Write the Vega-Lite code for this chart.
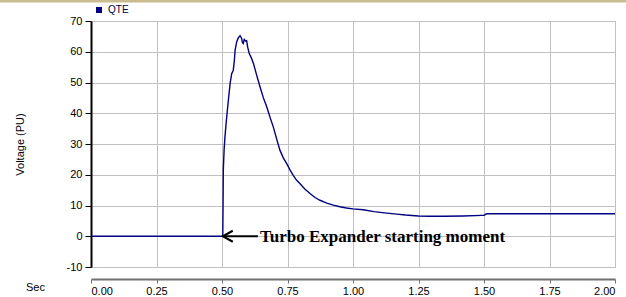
{
  "$schema": "https://vega.github.io/schema/vega-lite/v6.json",
  "width": 524,
  "height": 246,
  "autosize": {"type": "none"},
  "padding": {"left": 91, "top": 21, "right": 11, "bottom": 30},
  "background": "white",
  "config": {"view": {"stroke": "#c0c0c0", "strokeWidth": 1}, "font": "Liberation Sans"},
  "layer": [
    {
      "data": {"values": [
        {"t": 0, "v": 0}, {"t": 0.5, "v": 0}, {"t": 0.503, "v": 0.3}, {"t": 0.504, "v": 10},
        {"t": 0.505, "v": 21.5}, {"t": 0.508, "v": 28}, {"t": 0.511, "v": 32}, {"t": 0.515, "v": 36},
        {"t": 0.518, "v": 38.8}, {"t": 0.524, "v": 44}, {"t": 0.531, "v": 49.7}, {"t": 0.537, "v": 52.9},
        {"t": 0.543, "v": 54}, {"t": 0.547, "v": 57}, {"t": 0.55, "v": 60.5}, {"t": 0.556, "v": 63.2},
        {"t": 0.562, "v": 64.5}, {"t": 0.569, "v": 65.2}, {"t": 0.572, "v": 64.8}, {"t": 0.575, "v": 64.3},
        {"t": 0.578, "v": 63.0}, {"t": 0.581, "v": 62.7}, {"t": 0.585, "v": 64.0}, {"t": 0.59, "v": 63.5},
        {"t": 0.594, "v": 63.6}, {"t": 0.598, "v": 61.5}, {"t": 0.604, "v": 59.4}, {"t": 0.612, "v": 58},
        {"t": 0.62, "v": 56.2}, {"t": 0.632, "v": 52.5}, {"t": 0.645, "v": 48.6}, {"t": 0.658, "v": 45},
        {"t": 0.671, "v": 42}, {"t": 0.684, "v": 38.5}, {"t": 0.696, "v": 35.5}, {"t": 0.709, "v": 31.5},
        {"t": 0.721, "v": 28}, {"t": 0.734, "v": 25.5}, {"t": 0.747, "v": 23.6}, {"t": 0.76, "v": 21.5},
        {"t": 0.772, "v": 19.8}, {"t": 0.785, "v": 18.2}, {"t": 0.798, "v": 17.1}, {"t": 0.817, "v": 15.3},
        {"t": 0.836, "v": 13.9}, {"t": 0.855, "v": 12.6}, {"t": 0.874, "v": 11.7}, {"t": 0.9, "v": 10.8},
        {"t": 0.925, "v": 10.1}, {"t": 0.95, "v": 9.6}, {"t": 0.975, "v": 9.2}, {"t": 1.0, "v": 8.9},
        {"t": 1.039, "v": 8.6}, {"t": 1.08, "v": 8.0}, {"t": 1.12, "v": 7.6}, {"t": 1.167, "v": 7.2},
        {"t": 1.2, "v": 6.9}, {"t": 1.25, "v": 6.6}, {"t": 1.294, "v": 6.5}, {"t": 1.35, "v": 6.5},
        {"t": 1.421, "v": 6.6}, {"t": 1.49, "v": 6.8}, {"t": 1.5, "v": 6.8}, {"t": 1.51, "v": 7.3},
        {"t": 1.6, "v": 7.3}, {"t": 1.7, "v": 7.3}, {"t": 1.8, "v": 7.3}, {"t": 1.9, "v": 7.3}, {"t": 2.0, "v": 7.3}
      ]},
      "mark": {"type": "line", "strokeWidth": 1.4, "clip": true},
      "encoding": {
        "x": {"field": "t", "type": "quantitative", "scale": {"domain": [0, 2], "nice": false},
          "axis": {"values": [0, 0.25, 0.5, 0.75, 1, 1.25, 1.5, 1.75, 2], "format": ".2f", "offset": 12,
            "labelOverlap": false,
            "domainColor": "#707070", "domainWidth": 2, "tickColor": "#707070", "tickSize": 4,
            "labelFontSize": 11, "labelColor": "black", "labelPadding": 2, "labelFont": "Liberation Sans",
            "gridColor": "#c0c0c0", "title": "Sec", "titleX": -56, "titleY": 8,
            "titleFontWeight": "normal", "titleFontSize": 11, "titleFont": "Liberation Sans", "titleColor": "black",
            "titleAlign": "center", "titleBaseline": "middle"}},
        "y": {"field": "v", "type": "quantitative", "scale": {"domain": [-10, 70], "nice": false},
          "axis": {"values": [-10, 0, 10, 20, 30, 40, 50, 60, 70], "labelOverlap": false, "tickCount": 9,
            "labelExpr": "replace(datum.label, '\u2212', '-')",
            "domainColor": "black", "domainWidth": 2,
            "tickColor": "black", "tickSize": 6, "labelPadding": 3, "labelFontSize": 11, "labelColor": "black",
            "labelFont": "Liberation Sans", "gridColor": "#c0c0c0",
            "title": "Voltage (PU)", "titleFontWeight": "normal", "titleFontSize": 11, "titleFont": "Liberation Sans",
            "titleColor": "black", "titleX": -71, "titleY": 123, "titleAngle": -90,
            "titleAlign": "center", "titleBaseline": "middle"}},
        "color": {"datum": "QTE", "type": "nominal", "scale": {"range": ["#000080"]},
          "legend": {"orient": "none", "legendX": 3, "legendY": -16, "title": null,
            "symbolType": "square", "symbolSize": 36, "symbolStrokeWidth": 0, "symbolFillColor": "#000080",
            "labelFontSize": 10, "labelColor": "#000040", "labelFont": "Liberation Sans", "labelOffset": 4}}
      }
    },
    {
      "data": {"values": [{}]},
      "mark": {"type": "rule", "color": "black", "strokeWidth": 2},
      "encoding": {"x": {"datum": 0.504, "type": "quantitative"}, "x2": {"datum": 0.637}, "y": {"datum": 0, "type": "quantitative"}}
    },
    {
      "data": {"values": [{}]},
      "mark": {"type": "point", "shape": "M1,-0.55L0,0L1,0.55", "size": 400, "filled": false, "stroke": "black", "strokeWidth": 2, "opacity": 1},
      "encoding": {"x": {"datum": 0.503, "type": "quantitative"}, "y": {"datum": 0, "type": "quantitative"}}
    },
    {
      "data": {"values": [{}]},
      "mark": {"type": "text", "align": "left", "baseline": "middle", "font": "Liberation Serif", "fontWeight": "bold", "fontSize": 17, "color": "black", "dy": 1},
      "encoding": {"x": {"datum": 0.645, "type": "quantitative"}, "y": {"datum": 0, "type": "quantitative"}, "text": {"value": "Turbo Expander starting moment"}}
    },
    {
      "data": {"values": [{}]},
      "mark": {"type": "rule", "color": "#c9bd8f", "strokeWidth": 3},
      "encoding": {"x": {"datum": -0.36, "type": "quantitative"}, "x2": {"datum": 2.06}, "y": {"datum": 76.5, "type": "quantitative"}}
    }
  ]
}
